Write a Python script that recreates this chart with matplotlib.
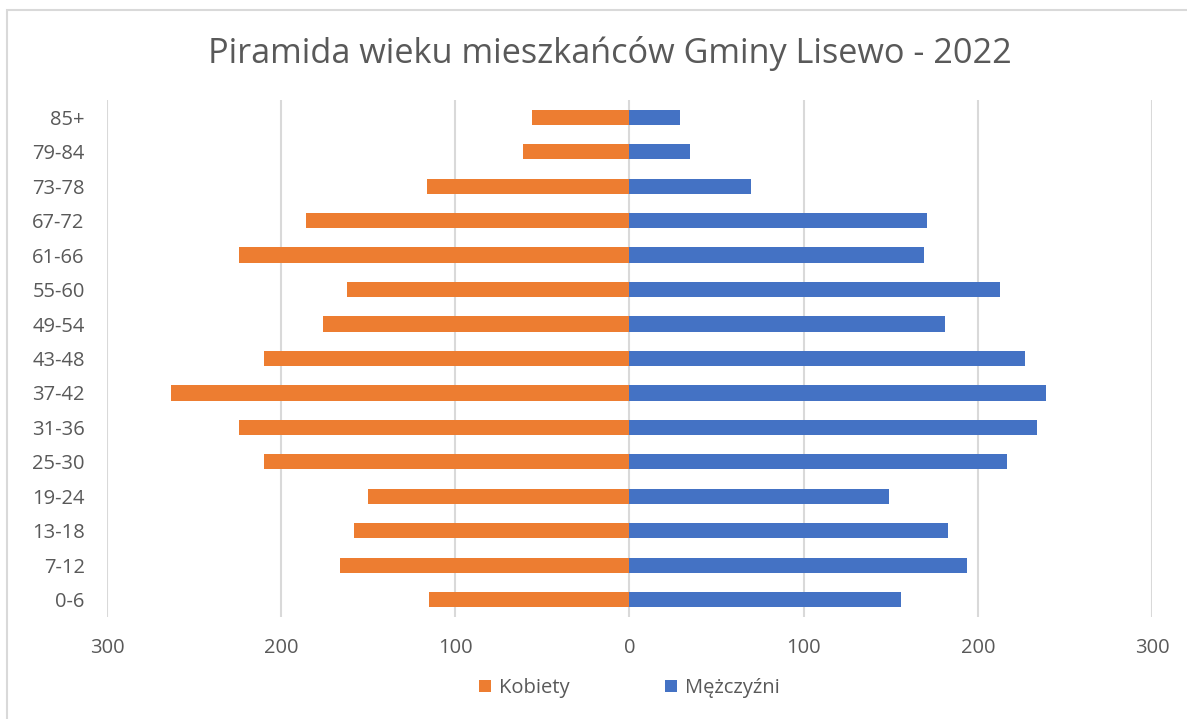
import numpy as np
import matplotlib.pyplot as plt
from matplotlib.ticker import FuncFormatter
from matplotlib.patches import Rectangle

plt.rcParams['font.family'] = ['Open Sans', 'DejaVu Sans']

age_groups = ['0-6', '7-12', '13-18', '19-24', '25-30', '31-36', '37-42', '43-48',
              '49-54', '55-60', '61-66', '67-72', '73-78', '79-84', '85+']
women = [115, 166, 158, 150, 210, 224, 263, 210, 176, 162, 224, 186, 116, 61, 56]
men = [156, 194, 183, 149, 217, 234, 239, 227, 181, 213, 169, 171, 70, 35, 29]

orange = '#ED7D31'
blue = '#4472C4'
grey_text = '#595959'

fig = plt.figure(figsize=(11.87, 7.19), dpi=100)
ax = fig.add_axes([0.0901, 0.1418, 0.8804, 0.7192])

# chart frame like in the spreadsheet
fig.patches.append(Rectangle((7 / 1187, -0.1), 1.2, 1 - 10 / 719 + 0.1,
                             transform=fig.transFigure, fill=False,
                             edgecolor='#d9d9d9', linewidth=1.5))

y = np.arange(len(age_groups))
ax.barh(y, -np.array(women), height=0.44, color=orange, label='Kobiety', zorder=3)
ax.barh(y, men, height=0.44, color=blue, label='Mężczyźni', zorder=3)

ax.set_xlim(-300, 300)
ax.set_ylim(-0.5, len(age_groups) - 0.5)
ax.set_xticks([-300, -200, -100, 0, 100, 200, 300])
ax.xaxis.set_major_formatter(FuncFormatter(lambda v, p: f'{abs(int(v))}'))
ax.set_yticks(y)
ax.set_yticklabels(age_groups)

ax.grid(axis='x', color='#d9d9d9', linewidth=1.5, zorder=0)
for s in ax.spines.values():
    s.set_visible(False)
ax.tick_params(axis='both', length=0, labelsize=14.5, labelcolor=grey_text)
ax.tick_params(axis='y', pad=16)
ax.tick_params(axis='x', pad=15)

fig.suptitle('Piramida wieku mieszkańców Gminy Lisewo - 2022', x=0.5135, y=0.95,
             fontsize=24.7, color=grey_text)

ax.legend(loc='upper center', bbox_to_anchor=(0.5, -0.083), ncol=2, frameon=False,
          fontsize=14.5, labelcolor=grey_text, handlelength=0.6, handleheight=0.6,
          columnspacing=4.7, handletextpad=0.4)

fig.savefig('out.png', dpi=100)
